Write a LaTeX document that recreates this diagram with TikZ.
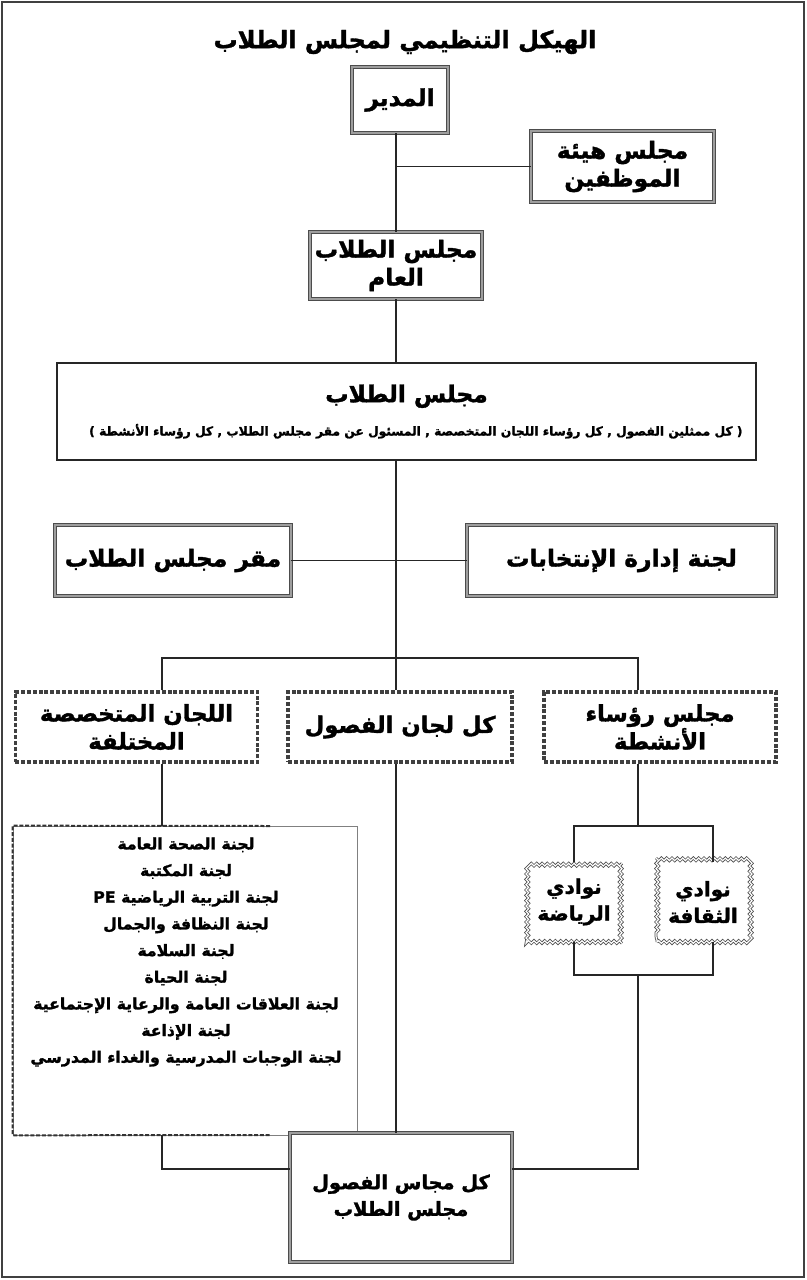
\documentclass[tikz,border=0pt]{standalone}
\usepackage{fontspec}
\usepackage{tikz}
\usetikzlibrary{decorations.pathmorphing}
\TeXXeTstate=1
\newfontfamily\arabicfont[Script=Arabic, BoldFeatures={FakeBold=1.5}]{DejaVu Sans}
\newcommand{\artxt}[1]{\beginR #1\endR}
\definecolor{frm}{gray}{0.25}
\definecolor{edge}{gray}{0.3}
\definecolor{fillg}{gray}{0.62}
\definecolor{wire}{gray}{0.15}

\begin{document}
\begin{tikzpicture}[x=0.75pt,y=-0.75pt,
  box/.style={draw=edge, double=fillg, double distance=1.5pt, line width=0.6pt,
    fill=white, align=center, inner sep=0pt,
    font=\arabicfont\bfseries\fontsize{17.5}{21}\selectfont},
  dashbox/.style={draw=black!75, line width=2.3pt, dash pattern=on 3pt off 1.4pt,
    fill=white, align=center, inner sep=0pt,
    font=\arabicfont\bfseries\fontsize{17}{21}\selectfont},
  club/.style={draw=gray!60!black, double=white, double distance=0.9pt, line width=0.6pt,
    decorate, decoration={snake, segment length=4pt, amplitude=1pt},
    fill=white, align=center, inner sep=0pt,
    font=\arabicfont\bfseries\fontsize{15}{20}\selectfont},
  wire/.style={draw=wire, line width=1pt}]
  \useasboundingbox (0,0) rectangle (806,1280);
  \draw[frm, line width=1.2pt] (2,2) rectangle (804,1277);

  \node[font=\arabicfont\bfseries\fontsize{18}{22}\selectfont] (title) at (405,42)
    {\artxt{الهيكل التنظيمي لمجلس الطلاب}};

  % upper boxes
  \node[box, minimum width=72pt, minimum height=49.5pt] (mdir) at (400,100) {\artxt{المدير}};
  \node[box, minimum width=137pt, minimum height=53pt] (staff) at (622.5,166.5)
    {\artxt{مجلس هيئة}\\\artxt{الموظفين}};
  \node[box, minimum width=129pt, minimum height=50pt] (gen) at (396,265.5)
    {\artxt{مجلس الطلاب}\\\artxt{العام}};
  \node[draw=black!85, line width=1.2pt, fill=white, minimum width=524pt, minimum height=72.75pt,
    align=center, inner sep=0pt] (council) at (406.5,411.5)
    {{\arabicfont\bfseries\fontsize{17.5}{20}\selectfont\artxt{مجلس الطلاب}}\\[11pt]
     {\arabicfont\bfseries\fontsize{9.2}{12}\selectfont\hspace*{14pt}\artxt{( كل ممثلين الفصول , كل رؤساء اللجان المتخصصة , المسئول عن مقر مجلس الطلاب , كل رؤساء الأنشطة )}}};
  \node[box, minimum width=177pt, minimum height=53pt] (hq) at (173,560.5) {\artxt{مقر مجلس الطلاب}};
  \node[box, minimum width=231.75pt, minimum height=53pt] (elect) at (621.5,560.5)
    {\artxt{لجنة إدارة الإنتخابات}};

  % three branches
  \node[dashbox, minimum width=182pt, minimum height=52.5pt] (spec) at (136.5,727)
    {\artxt{اللجان المتخصصة}\\\artxt{المختلفة}};
  \node[dashbox, minimum width=168pt, minimum height=52.5pt] (lin) at (400,727)
    {\artxt{كل لجان الفصول}};
  \node[dashbox, minimum width=174pt, minimum height=52.5pt] (heads) at (660,727)
    {\artxt{مجلس رؤساء}\\\artxt{الأنشطة}};

  % committees list
  \node[draw=gray, line width=0.5pt, fill=white, minimum width=258pt, minimum height=231.75pt]
    (lst) at (185,980.5) {};
  \draw[black!80, line width=1.5pt, dash pattern=on 3pt off 1.3pt]
    (270,826) -- (lst.north west) -- (lst.south west) -- (270,1135);
  \node[align=center, font=\arabicfont\bfseries\fontsize{11.8}{20}\selectfont] (lsttxt) at (186,952)
    {\artxt{لجنة الصحة العامة}\\
     \artxt{لجنة المكتبة}\\
     \artxt{لجنة التربية الرياضية \beginL PE\endL}\\
     \artxt{لجنة  النظافة والجمال}\\
     \artxt{لجنة السلامة}\\
     \artxt{لجنة الحياة}\\
     \artxt{لجنة العلاقات العامة والرعاية الإجتماعية}\\
     \artxt{لجنة الإذاعة}\\
     \artxt{لجنة الوجبات المدرسية والغداء المدرسي}};

  % clubs
  \node[club, minimum width=70.5pt, minimum height=60pt] (sport) at (574,902)
    {\artxt{نوادي}\\\artxt{الرياضة}};
  \node[club, minimum width=69pt, minimum height=60pt] (culture) at (703,902)
    {\artxt{نوادي}\\\artxt{الثقافة}};

  \node[box, minimum width=166.5pt, minimum height=96.75pt,
    font=\arabicfont\bfseries\fontsize{14.5}{20}\selectfont] (final) at (401,1197.5)
    {\artxt{كل مجاس الفصول}\\\artxt{مجلس الطلاب}};

  % connectors
  \coordinate (hub) at (396,658);
  \coordinate (hubL) at (162,658);
  \coordinate (hubR) at (638,658);
  \coordinate (cL) at (574,826);
  \coordinate (cR) at (713,826);
  \coordinate (clubTop) at (638,826);
  \coordinate (clubBot) at (638,975);
  \coordinate (joinL) at (162,1169);
  \coordinate (joinR) at (638,1169);
  \draw[wire] (mdir.south -| gen.north) -- (gen.north);
  \draw[wire] (staff.west) -- (staff.west -| gen.north);
  \draw[wire] (gen.south) -- (gen.south |- council.north);
  \draw[wire] (gen.south |- council.south) -- (hub);
  \draw[wire] (hq.east) -- (elect.west);
  \draw[wire] (hubL |- spec.north) -- (hubL) -- (hubR) -- (hubR |- heads.north);
  \draw[wire] (hub) -- (hub |- lin.north);
  \draw[wire] (hubL |- spec.south) -- (hubL |- lst.north);
  \draw[wire] (hubL |- lst.south) -- (joinL) -- (joinL -| final.west);
  \draw[wire] (hub |- lin.south) -- (hub |- final.north);
  \draw[wire] (hubR |- heads.south) -- (clubTop);
  \draw[wire] (cL |- sport.north) -- (cL) -- (cR) -- (cR |- culture.north);
  \draw[wire] (cL |- sport.south) -- (cL |- clubBot) -- (cR |- clubBot) -- (cR |- culture.south);
  \draw[wire] (clubBot) -- (joinR) -- (joinR -| final.east);
\end{tikzpicture}
\end{document}
